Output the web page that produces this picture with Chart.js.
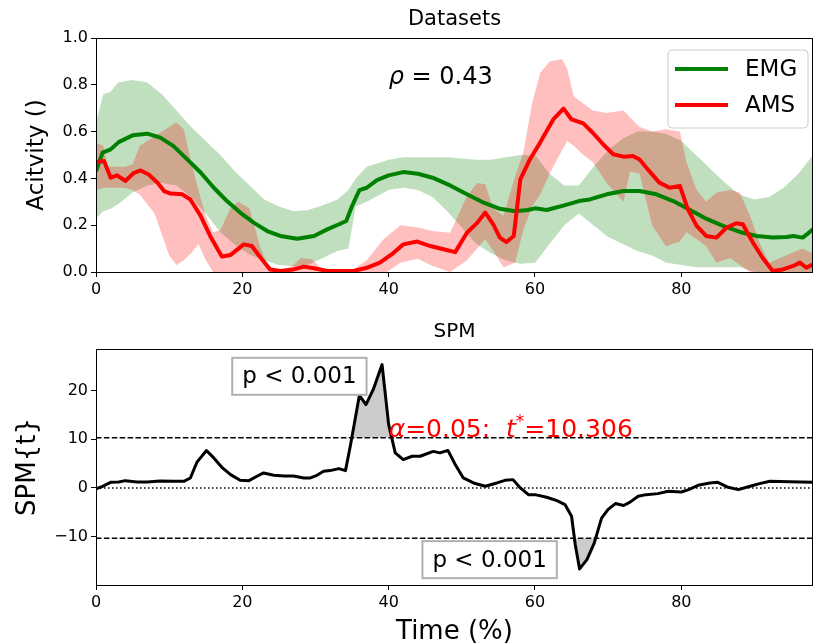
<!DOCTYPE html>
<html>
<head>
<meta charset="utf-8">
<script src="https://cdn.jsdelivr.net/npm/chart.js@4.4.0/dist/chart.umd.min.js"></script>
<style>
body { margin: 0; background: #fff; }
#wrap { position: relative; width: 814px; height: 644px; }
canvas { position: absolute; left: 0; }
</style>
</head>
<body>
<div id="wrap">
<canvas id="datasets" width="814" height="300" style="top:0"></canvas>
<canvas id="spm" width="814" height="344" style="top:300px"></canvas>
</div>
<script>
// ---- top panel: EMG / AMS mean curves and bands ----
var emgX = [0, 0.9, 2, 3.1, 5, 7, 8.8, 10.6, 12.5, 14.3, 16.1, 17.9, 19.7, 21.6, 23.4, 25.2, 27.5, 29.8, 31.6, 33.3,
    34.2, 35, 36, 37, 38.4, 40, 42, 44, 46, 48.4, 50.7, 53, 55.2, 57.3, 59, 60, 61.6, 64, 66, 67.5,
    69.8, 72.1, 74.3, 76.6, 78.9, 81.2, 83.4, 85.7, 88, 90.3, 92.5, 94.4, 95.3, 96.6, 98];
var emgMean = [0.43, 0.51, 0.524, 0.555, 0.584, 0.591, 0.574, 0.538, 0.48, 0.425, 0.36, 0.303, 0.254, 0.21, 0.175, 0.154, 0.142, 0.154, 0.182, 0.205,
    0.218, 0.282, 0.35, 0.36, 0.393, 0.413, 0.427, 0.42, 0.403, 0.37, 0.332, 0.296, 0.27, 0.26, 0.265, 0.272, 0.265, 0.285, 0.303, 0.31,
    0.332, 0.346, 0.346, 0.332, 0.303, 0.265, 0.228, 0.197, 0.171, 0.154, 0.147, 0.15, 0.154, 0.147, 0.182];

var emgBandX = [0, 1, 2, 3, 5, 7, 9, 11, 13, 15, 17, 19, 21, 23, 25, 27, 29, 31, 33, 34.5, 35.5, 37, 40, 42, 44, 46, 48, 50,
    52, 54, 56, 58, 60, 62, 64, 66, 68, 70, 72, 74, 76, 78, 80, 82, 84, 86, 88, 90, 92, 94, 96, 98];
var emgUpper = [0.64, 0.76, 0.77, 0.81, 0.82, 0.81, 0.76, 0.69, 0.62, 0.56, 0.50, 0.43, 0.37, 0.31, 0.28, 0.26, 0.265, 0.285, 0.31, 0.35, 0.40, 0.45, 0.48, 0.49, 0.49, 0.49, 0.49, 0.485,
    0.48, 0.48, 0.49, 0.5, 0.5, 0.42, 0.37, 0.37, 0.45, 0.52, 0.57, 0.6, 0.6, 0.59, 0.56, 0.5, 0.44, 0.38, 0.33, 0.31, 0.32, 0.36, 0.42, 0.5];
var emgLower = [0.23, 0.26, 0.27, 0.29, 0.34, 0.37, 0.38, 0.37, 0.32, 0.25, 0.17, 0.115, 0.075, 0.05, 0.03, 0.025, 0.03, 0.06, 0.09, 0.1, 0.28, 0.3, 0.35, 0.36, 0.35, 0.32, 0.26, 0.19,
    0.12, 0.08, 0.05, 0.035, 0.04, 0.12, 0.2, 0.25, 0.2, 0.15, 0.12, 0.09, 0.07, 0.04, 0.03, 0.02, 0.02, 0.02, 0.02, 0, -0.02, -0.05, -0.1, -0.14];

var amsX = [0, 1.1, 2, 2.9, 4, 5.2, 6.1, 7.2, 8.4, 9.3, 10.2, 11.8, 12.9, 14.3, 15.6, 17.2, 18.4, 20.2, 21.3, 22.5,
    23.8, 25.2, 27, 28.4, 29.8, 31.6, 35.2, 37, 38.8, 40.4, 42, 43.9, 45.7, 47.5, 49.1, 50.7, 52.1, 53.2, 54.3, 55.2,
    56.1, 57.1, 58, 59.3, 60.7, 62.5, 63.9, 65, 66.6, 67.9, 69.3, 70.7, 72.1, 73.4, 74.3, 75.6, 77, 78.4, 79.8, 80.9,
    82.1, 83.4, 84.8, 86.2, 87.5, 88.4, 89.8, 91.1, 92.5, 93.9, 95.3, 96.2, 97.1, 98];
var amsMean = [0.47, 0.474, 0.403, 0.413, 0.389, 0.424, 0.434, 0.417, 0.382, 0.346, 0.335, 0.332, 0.31, 0.24, 0.154, 0.066, 0.073, 0.118, 0.111, 0.061,
    0.011, 0.004, 0.011, 0.023, 0.016, 0.004, 0.004, 0.018, 0.04, 0.075, 0.118, 0.13, 0.111, 0.097, 0.085, 0.168, 0.21, 0.254, 0.204, 0.147,
    0.128, 0.154, 0.396, 0.481, 0.553, 0.652, 0.698, 0.652, 0.635, 0.595, 0.546, 0.503, 0.493, 0.496, 0.481, 0.432, 0.382, 0.36, 0.368, 0.268,
    0.197, 0.154, 0.147, 0.19, 0.208, 0.204, 0.125, 0.061, 0.004, 0.011, 0.026, 0.04, 0.018, 0.033];

var amsBandX = [0, 1, 1.6, 4, 5, 6, 8, 10, 11, 12, 13, 14, 15, 16, 17, 18.5, 19.5, 21, 22.5, 23.5, 25, 27, 28, 29.5, 31, 35, 37,
    39.3, 41.6, 44, 46, 48.4, 50.7, 52.1, 53.2, 54.3, 55.7, 57.3, 58.4, 59.6, 60.7, 62, 63.7, 64.4, 65.3, 66.6, 67.9, 69.8, 72.1,
    73, 74.3, 76, 77.9, 79.8, 80.7, 82.1, 83.4, 84.8, 86.7, 88, 89.4, 90.7, 92, 93.5, 95, 96.5, 98];
var amsUpper = [0.55, 0.54, 0.45, 0.45, 0.46, 0.54, 0.58, 0.62, 0.64, 0.61, 0.47, 0.35, 0.24, 0.17, 0.18, 0.28, 0.30, 0.27, 0.10, 0.03, 0.0, 0.03, 0.06, 0.055, 0.01, 0.005, 0.05,
    0.14, 0.2, 0.19, 0.175, 0.168, 0.325, 0.38, 0.375, 0.27, 0.24, 0.41, 0.51, 0.72, 0.85, 0.9, 0.91, 0.87, 0.75, 0.72, 0.69, 0.68, 0.69,
    0.66, 0.62, 0.6, 0.61, 0.6, 0.47, 0.35, 0.3, 0.34, 0.35, 0.34, 0.24, 0.125, 0.04, 0.06, 0.08, 0.1, 0.08];
var amsLower = [0.35, 0.36, 0.36, 0.36, 0.35, 0.33, 0.25, 0.07, 0.03, 0.05, 0.08, 0.12, 0.05, 0.0, -0.05, -0.1, -0.1, -0.1, -0.1, -0.1, -0.05, -0.02, -0.02, -0.03, -0.02, -0.02, -0.02,
    -0.01, 0.04, 0.057, 0.026, 0.0, 0.05, 0.1, 0.14, 0.09, 0.02, 0.04, 0.18, 0.28, 0.33, 0.42, 0.52, 0.56, 0.54, 0.5, 0.47, 0.38, 0.30,
    0.43, 0.42, 0.2, 0.11, 0.13, 0.17, 0.14, 0.11, 0.04, 0.06, 0.03, 0.0, -0.02, -0.03, -0.03, -0.02, -0.02, -0.02];

var xTicks = [0, 20, 40, 60, 80];
var rhoValue = '0.43';

// ---- bottom panel: SPM{t} ----
var spmX = [0, 0.9, 2, 3.1, 4, 5.6, 7, 8.8, 10.6, 12, 12.9, 13.8, 15.1, 16.1, 17.2, 18.4, 19.7, 20.9, 22, 22.9,
    24.3, 25.7, 27, 28.4, 29.3, 30.2, 31.1, 32, 33.2, 34.1, 34.8, 36, 36.9, 37.9, 39.1, 40, 40.9, 42, 43.2, 44.3,
    46.1, 47, 48.1, 49.1, 50.2, 51.6, 53.2, 54.8, 55.9, 57, 58, 59.1, 60, 61.6, 63, 64.1, 65, 65.5, 66.1, 67.1,
    68.1, 69.1, 70, 71, 72.1, 73, 74.1, 75.2, 76.8, 78.2, 80, 81, 82.3, 83.9, 85, 86.4, 87.8, 89.4, 90.7, 92.1, 94.8, 98];
var spmT = [-0.2, 0.34, 1.16, 1.23, 1.5, 1.23, 1.23, 1.44, 1.37, 1.37, 2.05, 5.3, 7.67, 6.16, 4.24, 2.74, 1.57, 1.5, 2.4, 3.08,
    2.6, 2.46, 2.46, 2.05, 2.05, 2.6, 3.42, 3.56, 3.97, 3.56, 8.9, 19.0, 17.1, 20.2, 25.3, 13.0, 7.2, 5.8, 6.5, 6.5,
    7.5, 7.2, 7.7, 4.8, 2.05, 1.03, 0.34, 1.03, 1.57, 1.71, 0, -1.37, -1.37, -1.9, -2.6, -3.4, -5.8, -11.6, -16.6, -14.7,
    -11.3, -6.2, -4.4, -3.2, -3.6, -2.9, -1.7, -1.37, -1.16, -0.68, -0.82, -0.34, 0.55, 1.03, 1.16, 0.14, -0.34, 0.34, 0.89, 1.37, 1.3, 1.16];
var tCrit = 10.306;
var pLabels = [{x: 27.8, y: 22.9, text: 'p < 0.001'}, {x: 53.8, y: -14.7, text: 'p < 0.001'}];

var FONT = "'DejaVu Sans', sans-serif";
Chart.defaults.font.family = FONT;
Chart.defaults.color = '#000';

function pts(xs, ys) {
    return xs.map(function (x, i) { return {x: x, y: ys[i]}; });
}

function xAxis(h) {
    return {
        type: 'linear', min: 0, max: 98,
        afterFit: function (s) { s.height = h; },
        afterBuildTicks: function (s) { s.ticks = xTicks.map(function (v) { return {value: v}; }); },
        grid: {drawOnChartArea: false, drawTicks: true, tickLength: 5, color: '#000'},
        border: {display: false},
        ticks: {maxRotation: 0, padding: 3, font: {size: 16}, color: '#000'}
    };
}

function frame(chart) {
    var ctx = chart.ctx, a = chart.chartArea;
    ctx.save();
    ctx.strokeStyle = '#000';
    ctx.lineWidth = 1;
    ctx.strokeRect(Math.round(a.left) + 0.5, Math.round(a.top) + 0.5, Math.round(a.right - a.left) - 1, Math.round(a.bottom - a.top));
    ctx.restore();
}

function vText(ctx, text, x, y, font) {
    ctx.save();
    ctx.translate(x, y);
    ctx.rotate(-Math.PI / 2);
    ctx.font = font;
    ctx.textAlign = 'center';
    ctx.textBaseline = 'middle';
    ctx.fillText(text, 0, 0);
    ctx.restore();
}

// draws [text, font, dy] pieces one after another from x
function runText(ctx, parts, x, y) {
    parts.forEach(function (p) {
        ctx.font = p[1];
        ctx.fillText(p[0], x, y + p[2]);
        x += ctx.measureText(p[0]).width;
    });
}

var topDecor = {
    id: 'topDecor',
    afterDraw: function (chart) {
        var ctx = chart.ctx, a = chart.chartArea;
        var xs = chart.scales.x, ys = chart.scales.y;
        frame(chart);
        ctx.save();
        ctx.fillStyle = '#000';
        ctx.font = '21px ' + FONT;
        ctx.textAlign = 'center';
        ctx.textBaseline = 'alphabetic';
        ctx.fillText('Datasets', (a.left + a.right) / 2, 25);
        vText(ctx, 'Acitvity ()', 37, (a.top + a.bottom) / 2, '23px ' + FONT);

        // rho annotation
        ctx.textAlign = 'left';
        runText(ctx, [['ρ', 'italic 24px ' + FONT, 0], [' = ' + rhoValue, '24px ' + FONT, 0]],
            xs.getPixelForValue(40.0), ys.getPixelForValue(0.805));

        // legend box
        var lx = 668, ly = 50, lw = 140, lh = 78, r = 4;
        ctx.beginPath();
        ctx.moveTo(lx + r, ly);
        ctx.arcTo(lx + lw, ly, lx + lw, ly + lh, r);
        ctx.arcTo(lx + lw, ly + lh, lx, ly + lh, r);
        ctx.arcTo(lx, ly + lh, lx, ly, r);
        ctx.arcTo(lx, ly, lx + lw, ly, r);
        ctx.closePath();
        ctx.fillStyle = 'rgba(255,255,255,0.8)';
        ctx.fill();
        ctx.strokeStyle = '#cccccc';
        ctx.lineWidth = 1;
        ctx.stroke();
        var items = [['EMG', 'green', 69], ['AMS', 'red', 105]];
        items.forEach(function (it) {
            ctx.strokeStyle = it[1];
            ctx.lineWidth = 4;
            ctx.beginPath();
            ctx.moveTo(675, it[2]);
            ctx.lineTo(728, it[2]);
            ctx.stroke();
            ctx.fillStyle = '#000';
            ctx.font = '23px ' + FONT;
            ctx.textAlign = 'left';
            ctx.textBaseline = 'middle';
            ctx.fillText(it[0], 745, it[2] + 1);
        });
        ctx.restore();
    }
};

var spmDecor = {
    id: 'spmDecor',
    afterDraw: function (chart) {
        var ctx = chart.ctx, a = chart.chartArea;
        var xs = chart.scales.x, ys = chart.scales.y;
        frame(chart);
        ctx.save();
        ctx.fillStyle = '#000';
        ctx.font = '20px ' + FONT;
        ctx.textAlign = 'center';
        ctx.fillText('SPM', (a.left + a.right) / 2, 37);
        ctx.font = '26px ' + FONT;
        ctx.fillText('Time (%)', (a.left + a.right) / 2, 339);
        vText(ctx, 'SPM{t}', 28, (a.top + a.bottom) / 2, '26px ' + FONT);

        // p-value boxes
        pLabels.forEach(function (p) {
            var cx = xs.getPixelForValue(p.x), cy = ys.getPixelForValue(p.y);
            ctx.font = '23px ' + FONT;
            var w = ctx.measureText(p.text).width + 20, h = 37;
            ctx.fillStyle = '#fff';
            ctx.fillRect(cx - w / 2, cy - h / 2, w, h);
            ctx.strokeStyle = '#b0b0b0';
            ctx.lineWidth = 2;
            ctx.strokeRect(cx - w / 2, cy - h / 2, w, h);
            ctx.fillStyle = '#000';
            ctx.textAlign = 'center';
            ctx.textBaseline = 'middle';
            ctx.fillText(p.text, cx, cy + 1);
        });

        // critical threshold label
        ctx.fillStyle = 'red';
        ctx.textAlign = 'left';
        ctx.textBaseline = 'alphabetic';
        runText(ctx, [['α', 'italic 25px ' + FONT, 0], ['=0.05:  ', '25px ' + FONT, 0], ['t', 'italic 25px ' + FONT, 0],
            ['*', '17px ' + FONT, -10], ['=10.306', '25px ' + FONT, 0]],
            xs.getPixelForValue(40), ys.getPixelForValue(tCrit) - 1);
        ctx.restore();
    }
};

new Chart(document.getElementById('datasets').getContext('2d'), {
    type: 'line',
    data: {
        datasets: [
            {data: pts(amsX, amsMean), borderColor: 'red', borderWidth: 4, borderJoinStyle: 'round', pointRadius: 0, fill: false},
            {data: pts(emgX, emgMean), borderColor: 'green', borderWidth: 4, borderJoinStyle: 'round', pointRadius: 0, fill: false},
            {data: pts(amsBandX, amsUpper), borderWidth: 0, pointRadius: 0, fill: '+1', backgroundColor: 'rgba(255,0,0,0.25)'},
            {data: pts(amsBandX, amsLower), borderWidth: 0, pointRadius: 0, fill: false},
            {data: pts(emgBandX, emgUpper), borderWidth: 0, pointRadius: 0, fill: '+1', backgroundColor: 'rgba(0,128,0,0.25)'},
            {data: pts(emgBandX, emgLower), borderWidth: 0, pointRadius: 0, fill: false}
        ]
    },
    options: {
        responsive: false,
        animation: false,
        layout: {padding: {top: 38, right: 1, left: 0, bottom: 0}},
        plugins: {legend: {display: false}, tooltip: {enabled: false}},
        scales: {
            x: xAxis(28),
            y: {
                min: 0, max: 1,
                afterFit: function (s) { s.width = 96; },
                grid: {drawOnChartArea: false, drawTicks: true, tickLength: 5, color: '#000'},
                border: {display: false},
                ticks: {stepSize: 0.2, padding: 3, font: {size: 16}, color: '#000',
                    callback: function (v) { return v.toFixed(1); }}
            }
        }
    },
    plugins: [topDecor]
});

function hLine(y, dash) {
    return {data: [{x: 0, y: y}, {x: 98, y: y}], borderColor: '#000', borderWidth: 1.5, borderDash: dash, pointRadius: 0, fill: false};
}

new Chart(document.getElementById('spm').getContext('2d'), {
    type: 'line',
    data: {
        datasets: [
            {data: pts(spmX, spmT), borderColor: '#000', borderWidth: 3, borderJoinStyle: 'round', pointRadius: 0, fill: false},
            hLine(tCrit, [5.5, 2.4]),
            hLine(-tCrit, [5.5, 2.4]),
            hLine(0, [1.5, 2.5]),
            {data: pts(spmX, spmT), borderWidth: 0, pointRadius: 0,
                fill: {target: {value: tCrit}, above: '#cccccc', below: 'rgba(0,0,0,0)'}},
            {data: pts(spmX, spmT), borderWidth: 0, pointRadius: 0,
                fill: {target: {value: -tCrit}, above: 'rgba(0,0,0,0)', below: '#cccccc'}}
        ]
    },
    options: {
        responsive: false,
        animation: false,
        layout: {padding: {top: 49, right: 1, left: 0, bottom: 0}},
        plugins: {legend: {display: false}, tooltip: {enabled: false}},
        scales: {
            x: xAxis(59),
            y: {
                min: -19.9, max: 28.5,
                afterFit: function (s) { s.width = 96; },
                grid: {drawOnChartArea: false, drawTicks: true, tickLength: 5, color: '#000'},
                border: {display: false},
                ticks: {stepSize: 10, includeBounds: false, padding: 3, font: {size: 16}, color: '#000',
                    callback: function (v) { return v < 0 ? '\u2212' + Math.abs(v) : String(v); }}
            }
        }
    },
    plugins: [spmDecor]
});
</script>
</body>
</html>
